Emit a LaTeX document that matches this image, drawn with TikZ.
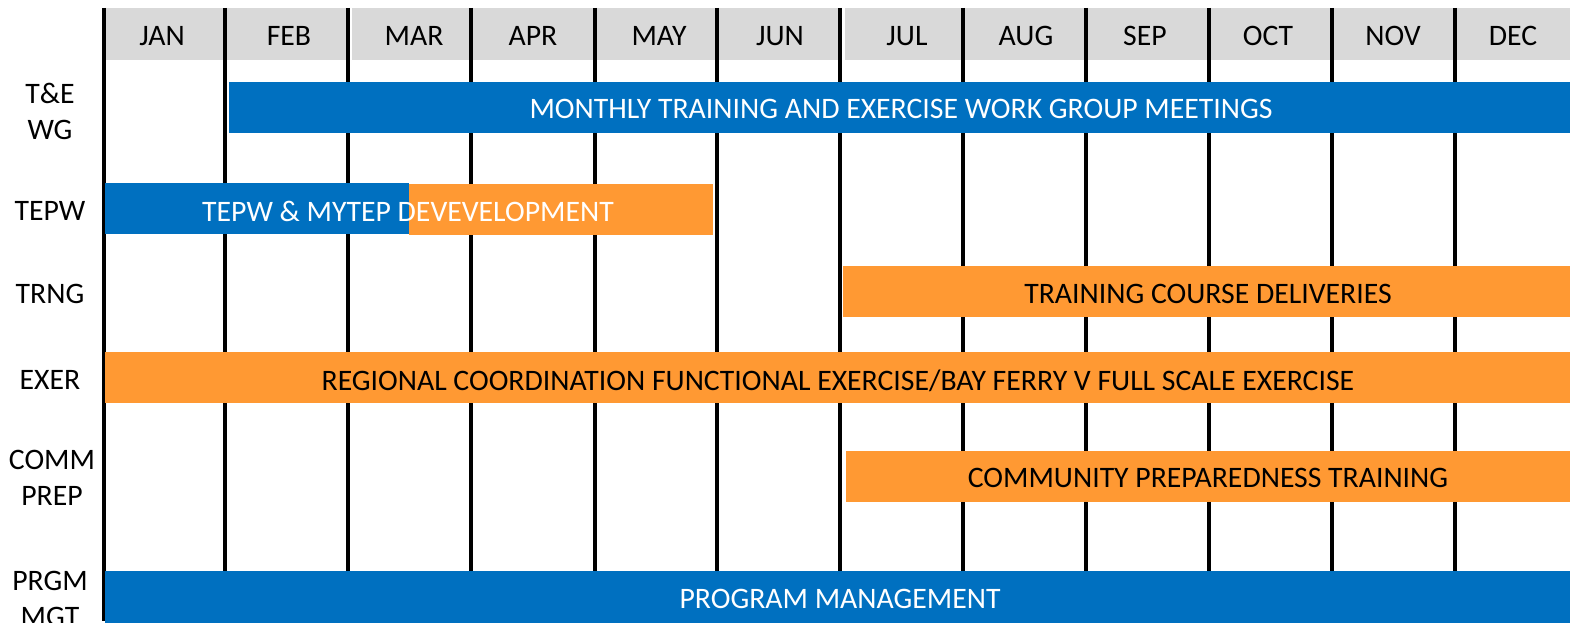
\documentclass[tikz,border=0pt]{standalone}
\usepackage{fontspec}
\setmainfont{Carlito}
\definecolor{barblue}{HTML}{0070C0}
\definecolor{barorange}{HTML}{FF9933}
\definecolor{hdrgray}{HTML}{D9D9D9}

\begin{document}
\begin{tikzpicture}[x=0.75pt,y=0.75pt,yscale=-1,xscale=1,
  lbl/.style={inner sep=0.75pt, align=center, font=\fontsize{22.3}{27}\selectfont},
  bartext/.style={lbl, color=white},
  gridline/.style={line width=3pt},
  cell/.style={fill=hdrgray, draw=none},
  bluebar/.style={fill=barblue, draw=none},
  orangebar/.style={fill=barorange, draw=none}]
\useasboundingbox (0,0) rectangle (1570,623);
% header cells
\fill [cell] (103,8) rectangle (225,60);
\fill [cell] (227,8) rectangle (346,60);
\fill [cell] (352,8) rectangle (471,60);
\fill [cell] (471,8) rectangle (595,60);
\fill [cell] (595,8) rectangle (717,60);
\fill [cell] (717,8) rectangle (839,60);
\fill [cell] (845,8) rectangle (963,60);
\fill [cell] (963,8) rectangle (1086,60);
\fill [cell] (1086,8) rectangle (1209,60);
\fill [cell] (1209,8) rectangle (1332,60);
\fill [cell] (1332,8) rectangle (1455,60);
\fill [cell] (1455,8) rectangle (1570,60);
% month lines
\draw [gridline]   (103.5,8) -- (103.5,621) ;
\draw [gridline]   (225,8) -- (225,575) ;
\draw [gridline]   (348,8) -- (348,575) ;
\draw [gridline]   (471,8) -- (471,575) ;
\draw [gridline]   (595,8) -- (595,575) ;
\draw [gridline]   (717,8) -- (717,575) ;
\draw [gridline]   (840,8) -- (840,575) ;
\draw [gridline]   (963,8) -- (963,575) ;
\draw [gridline]   (1086,8) -- (1086,575) ;
\draw [gridline]   (1209,8) -- (1209,575) ;
\draw [gridline]   (1332,8) -- (1332,575) ;
\draw [gridline]   (1455,8) -- (1455,575) ;
% months
\draw (162,36) node (jan) [lbl] {JAN};
\draw (289,36) node (feb) [lbl] {FEB};
\draw (414,36) node (mar) [lbl] {MAR};
\draw (533,36) node (apr) [lbl] {APR};
\draw (659,36) node (may) [lbl] {MAY};
\draw (780,36) node (jun) [lbl] {JUN};
\draw (907,36) node (jul) [lbl] {JUL};
\draw (1026,36) node (aug) [lbl] {AUG};
\draw (1145,36) node (sep) [lbl] {SEP};
\draw (1268,36) node (oct) [lbl] {OCT};
\draw (1393,36) node (nov) [lbl] {NOV};
\draw (1513,36) node (dec) [lbl] {DEC};
% rows
\draw (50,111) node (tewg) [lbl] {T\&E\\WG};
\draw (50,211) node (tepw) [lbl] {TEPW};
\draw (50,294) node (trng) [lbl] {TRNG};
\draw (50,380) node (exer) [lbl] {EXER};
\draw (52,478) node (comm) [lbl] {COMM\\PREP};
\draw (50,599) node (prgm) [lbl] {PRGM\\MGT};
% bars
\fill [bluebar] (229,82) rectangle (1570,133);
\fill [bluebar] (105,183) rectangle (409,234);
\fill [orangebar] (409,184) rectangle (713,235);
\fill [orangebar] (843,266) rectangle (1570,317);
\fill [orangebar] (105,352) rectangle (1570,403);
\fill [orangebar] (846,451) rectangle (1570,502);
\fill [bluebar] (105,571) rectangle (1570,623);
\draw (901,109) node (meetings) [bartext] {MONTHLY TRAINING AND EXERCISE WORK GROUP MEETINGS};
\draw (408,211) node (mytep) [bartext] {TEPW \& MYTEP DEVEVELOPMENT};
\draw (1208,294) node (courses) [lbl] {TRAINING COURSE DELIVERIES};
\draw (838,381) node (exercise) [lbl] {REGIONAL COORDINATION FUNCTIONAL EXERCISE/BAY FERRY V FULL SCALE EXERCISE};
\draw (1208,478) node (community) [lbl] {COMMUNITY PREPAREDNESS TRAINING};
\draw (840,599) node (program) [bartext] {PROGRAM MANAGEMENT};
\end{tikzpicture}
\end{document}
